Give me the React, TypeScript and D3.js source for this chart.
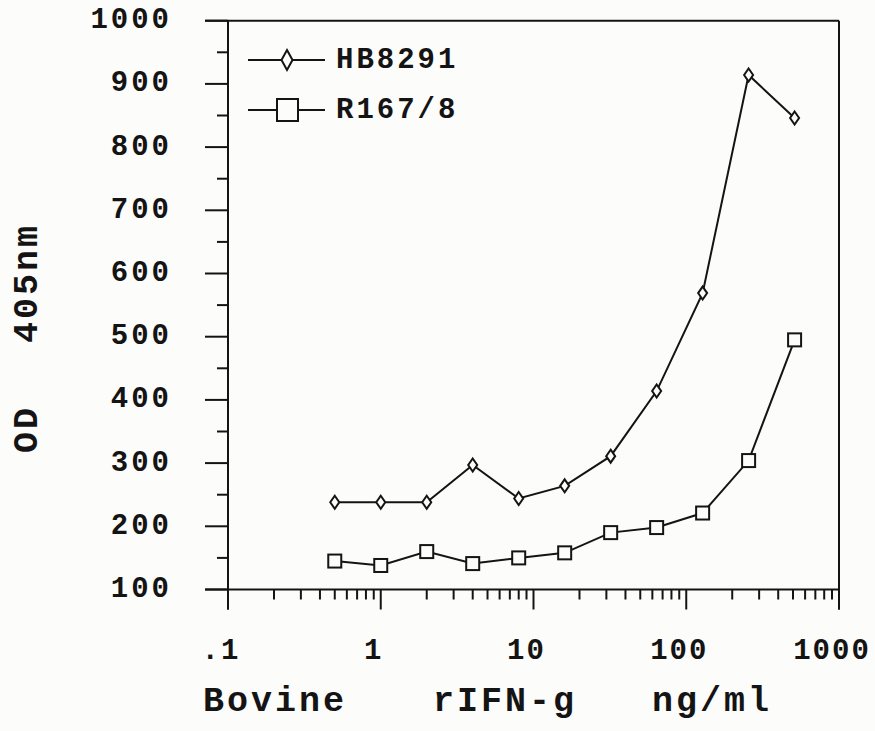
import React from "react";
import * as d3 from "d3";

// Concentrations (ng/ml) and OD readings (x1000)
const concentrations = [0.5, 1, 2, 4, 8, 16, 32, 64, 128, 256, 512];
const hb8291 = [238, 238, 238, 297, 244, 264, 311, 414, 569, 914, 846];
const r1678 = [145, 138, 160, 141, 150, 158, 190, 198, 221, 304, 495];

const yTicks = [100, 200, 300, 400, 500, 600, 700, 800, 900, 1000];
const yMinorTicks = [150, 250, 350, 450, 550, 650, 750, 850, 950];
const xDecades = [0.1, 1, 10, 100, 1000];
const xDecadeLabels = [".1", "1", "10", "100", "1000"];

const seriesNames = ["HB8291", "R167/8"];
const xTitleWords = ["Bovine", "rIFN-g", "ng/ml"];

const FONT = "'Liberation Mono', 'Courier New', monospace";
const INK = "#141414";
const PAPER = "#fcfcfb";

export default function App() {
  const W = 875;
  const H = 731;
  const left = 228;
  const right = 839;
  const top = 20.7;
  const bottom = 589.5;

  const x = d3.scaleLog().domain([0.1, 1000]).range([left, right]);
  const y = d3.scaleLinear().domain([100, 1000]).range([bottom, top]);

  const minorX: number[] = [];
  for (let d = 0; d < xDecades.length - 1; d++) {
    for (let k = 2; k <= 9; k++) minorX.push(xDecades[d] * k);
  }

  const line = d3
    .line<number>()
    .x((_, i) => x(concentrations[i]))
    .y((v) => y(v));

  const diamond = (cx: number, cy: number, w: number, h: number) =>
    `M${cx},${cy - h / 2}L${cx + w / 2},${cy}L${cx},${cy + h / 2}L${cx - w / 2},${cy}Z`;

  const majorLen = 23;
  const minorLen = 11;
  const xMajorLen = 20;
  const xMinorLen = 10;
  const titleX = [203, 433, 652];

  return (
    <svg
      width={W}
      height={H}
      style={{ position: "absolute", left: 0, top: 0, background: PAPER }}
    >
      <rect x={0} y={0} width={W} height={H} fill={PAPER} />
      {/* frame */}
      <g stroke={INK} strokeWidth={2} fill="none">
        <line x1={left - majorLen} y1={top} x2={right} y2={top} />
        <line x1={left} y1={top} x2={left} y2={bottom + xMajorLen} />
        <line x1={left - majorLen} y1={bottom} x2={right} y2={bottom} />
        <line x1={right} y1={top} x2={right} y2={bottom + xMajorLen} />
      </g>
      {/* y ticks */}
      <g stroke={INK} strokeWidth={2}>
        {yTicks.map((t) => (
          <line key={t} x1={left - majorLen} x2={left} y1={y(t)} y2={y(t)} />
        ))}
        {yMinorTicks.map((t) => (
          <line key={t} x1={left - minorLen} x2={left} y1={y(t)} y2={y(t)} />
        ))}
      </g>
      {/* x ticks */}
      <g stroke={INK} strokeWidth={2}>
        {xDecades.map((t) => (
          <line key={t} x1={x(t)} x2={x(t)} y1={bottom} y2={bottom + xMajorLen} />
        ))}
        {minorX.map((t) => (
          <line key={t} x1={x(t)} x2={x(t)} y1={bottom} y2={bottom + xMinorLen} />
        ))}
      </g>
      {/* y tick labels */}
      <g fontFamily={FONT} fontWeight="bold" fontSize={29} fill={INK}>
        {yTicks.map((t) => (
          <text
            key={t}
            x={172}
            y={y(t)}
            textAnchor="end"
            dominantBaseline="central"
            letterSpacing={3}
          >
            {t}
          </text>
        ))}
      </g>
      {/* x tick labels */}
      <g fontFamily={FONT} fontWeight="bold" fontSize={29} fill={INK}>
        {xDecades.map((t, i) => (
          <text
            key={t}
            x={x(t) - 7}
            y={651}
            textAnchor="middle"
            dominantBaseline="central"
            letterSpacing={2}
          >
            {xDecadeLabels[i]}
          </text>
        ))}
      </g>
      {/* axis titles */}
      <g fontFamily={FONT} fontWeight="bold" fontSize={35} fill={INK} letterSpacing={3}>
        {xTitleWords.map((w, i) => (
          <text key={w} x={titleX[i]} y={711}>
            {w}
          </text>
        ))}
        <text transform="translate(37,453) rotate(-90)">OD</text>
        <text transform="translate(37,343) rotate(-90)">405nm</text>
      </g>
      {/* series */}
      <path d={line(hb8291) || ""} fill="none" stroke={INK} strokeWidth={2} />
      <path d={line(r1678) || ""} fill="none" stroke={INK} strokeWidth={2} />
      {hb8291.map((v, i) => (
        <path
          key={i}
          d={diamond(x(concentrations[i]), y(v), 9, 13)}
          fill={PAPER}
          stroke={INK}
          strokeWidth={2}
        />
      ))}
      {r1678.map((v, i) => (
        <rect
          key={i}
          x={x(concentrations[i]) - 6.5}
          y={y(v) - 6.5}
          width={13}
          height={13}
          fill={PAPER}
          stroke={INK}
          strokeWidth={2}
        />
      ))}
      {/* legend */}
      <g fontFamily={FONT} fontWeight="bold" fontSize={29} fill={INK} letterSpacing={3}>
        <line x1={248} x2={325} y1={60} y2={60} stroke={INK} strokeWidth={2} />
        <path d={diamond(287, 60, 11, 20)} fill={PAPER} stroke={INK} strokeWidth={2} />
        <text x={336} y={60} dominantBaseline="central">{seriesNames[0]}</text>
        <line x1={248} x2={325} y1={110} y2={110} stroke={INK} strokeWidth={2} />
        <rect x={277} y={99} width={21} height={22} fill={PAPER} stroke={INK} strokeWidth={2} />
        <text x={336} y={110} dominantBaseline="central">{seriesNames[1]}</text>
      </g>
    </svg>
  );
}
